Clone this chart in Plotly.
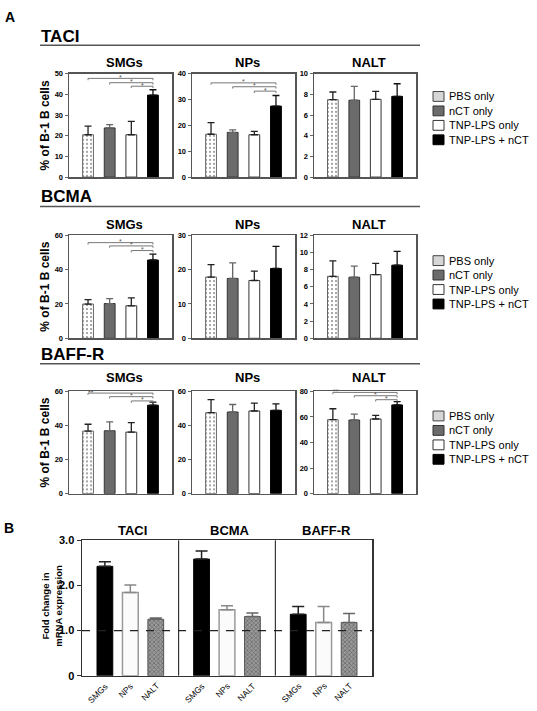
import plotly.graph_objects as go

W, H = 537, 711
FONT = "Liberation Sans, Arial, Helvetica, sans-serif"

# ---------------- data: panel A ----------------
series = ["PBS only", "nCT only", "TNP-LPS only", "TNP-LPS + nCT"]
receptors = ["TACI", "BCMA", "BAFF-R"]
tissues = ["SMGs", "NPs", "NALT"]

taci_smgs_mean = [20.5, 23.8, 20.5, 39.7]
taci_smgs_err = [4.2, 1.6, 6.5, 2.6]
taci_nps_mean = [16.6, 17.3, 16.4, 27.5]
taci_nps_err = [4.5, 1.0, 1.3, 4.1]
taci_nalt_mean = [7.5, 7.44, 7.53, 7.82]
taci_nalt_err = [0.74, 1.34, 0.77, 1.22]

bcma_smgs_mean = [19.9, 20.2, 18.9, 45.5]
bcma_smgs_err = [2.6, 2.9, 4.6, 3.4]
bcma_nps_mean = [17.8, 17.4, 16.8, 20.3]
bcma_nps_err = [3.6, 4.5, 2.7, 6.4]
bcma_nalt_mean = [7.2, 7.1, 7.4, 8.5]
bcma_nalt_err = [1.8, 1.3, 1.3, 1.6]

baffr_smgs_mean = [36.7, 36.9, 36.1, 51.9]
baffr_smgs_err = [4.0, 5.2, 5.6, 1.8]
baffr_nps_mean = [47.5, 47.9, 48.5, 48.9]
baffr_nps_err = [7.7, 4.4, 4.6, 3.8]
baffr_nalt_mean = [57.9, 57.6, 58.4, 69.4]
baffr_nalt_err = [8.5, 4.6, 2.8, 2.6]

# axis maxima and tick steps per receptor row (SMGs, NPs, NALT)
taci_ymax = [50, 40, 10]
taci_step = [10, 10, 2]
bcma_ymax = [60, 30, 12]
bcma_step = [20, 10, 2]
baffr_ymax = [60, 60, 80]
baffr_step = [20, 20, 20]

# significance brackets: (from group index, to group index, level, label, label at start?)
taci_smgs_sig = [(0, 3, 47.8, "*", False), (1, 3, 45.7, "*", False), (2, 3, 44.0, "*", False)]
taci_nps_sig = [(0, 3, 36.5, "*", False), (1, 3, 35.0, "*", False), (2, 3, 33.3, "*", False)]
bcma_smgs_sig = [(0, 3, 55.6, "*", False), (1, 3, 53.7, "*", False), (2, 3, 51.0, "*", False)]
baffr_smgs_sig = [(0, 3, 59.0, "**", True), (1, 3, 56.9, "*", False), (2, 3, 54.4, "*", False)]
baffr_nalt_sig = [(0, 3, 79.2, "**", True), (1, 3, 76.6, "*", False), (2, 3, 73.5, "*", False)]

# ---------------- data: panel B ----------------
b_tissues = ["SMGs", "NPs", "NALT"]
b_taci_mean = [2.42, 1.84, 1.25]
b_taci_err = [0.10, 0.17, 0.03]
b_bcma_mean = [2.58, 1.46, 1.31]
b_bcma_err = [0.18, 0.09, 0.08]
b_baffr_mean = [1.36, 1.18, 1.18]
b_baffr_err = [0.17, 0.35, 0.20]
b_ticks = [0, 1, 2, 3]
b_ticktext = ["0", "1.0", "2.0", "3.0"]


def px(x):
    return x / W


def py(y):
    return 1 - y / H


fig = go.Figure()
layout = {}
shapes = []
annotations = []

a_means = [
    [taci_smgs_mean, taci_nps_mean, taci_nalt_mean],
    [bcma_smgs_mean, bcma_nps_mean, bcma_nalt_mean],
    [baffr_smgs_mean, baffr_nps_mean, baffr_nalt_mean],
]
a_errs = [
    [taci_smgs_err, taci_nps_err, taci_nalt_err],
    [bcma_smgs_err, bcma_nps_err, bcma_nalt_err],
    [baffr_smgs_err, baffr_nps_err, baffr_nalt_err],
]
a_ymax = [taci_ymax, bcma_ymax, baffr_ymax]
a_step = [taci_step, bcma_step, baffr_step]
a_sig = [
    [taci_smgs_sig, taci_nps_sig, []],
    [bcma_smgs_sig, [], []],
    [baffr_smgs_sig, [], baffr_nalt_sig],
]

col_x = [(69, 172), (192, 295), (314, 416)]
row_y = [(69, 174), (233, 338), (392, 496)]
header_y = [31, 194, 354]
rule_y = [40, 204, 364]
coltitle_y = [57, 222, 378]
legend_y0 = [92, 259, 417]

bar_styles = [
    dict(color="white", line="#666",
         pattern=dict(shape=".", fgcolor="#222", bgcolor="white", size=4, solidity=0.22)),
    dict(color="#6b6b6b", line="#333", pattern=None),
    dict(color="white", line="#333", pattern=None),
    dict(color="black", line="black", pattern=None),
]
err_colors = ["#222", "#666", "#222", "#111"]

n = 0
for r in range(3):
    for c in range(3):
        n += 1
        sx = "" if n == 1 else str(n)
        xa, ya = "x" + sx, "y" + sx
        means = a_means[r][c]
        errs = a_errs[r][c]
        for i, name in enumerate(series):
            st = bar_styles[i]
            marker = dict(color=st["color"], line=dict(color=st["line"], width=1))
            if st["pattern"]:
                marker["pattern"] = st["pattern"]
            fig.add_trace(go.Bar(
                x=[i], y=[means[i]], width=0.5, name=name, showlegend=False,
                marker=marker,
                error_y=dict(type="data", symmetric=False, array=[errs[i]], arrayminus=[0],
                             color=err_colors[i], thickness=1.3, width=3.5),
                xaxis=xa, yaxis=ya, hoverinfo="skip"))
        x0, x1 = col_x[c]
        y0, y1 = row_y[r]
        ymax = a_ymax[r][c]
        step = a_step[r][c]
        layout["xaxis" + sx] = dict(
            domain=[px(x0), px(x1)], range=[-0.88, 3.88], showticklabels=False, ticks="",
            showline=True, mirror=True, linecolor="#555", linewidth=1.5,
            showgrid=False, zeroline=False, anchor=ya, fixedrange=True)
        layout["yaxis" + sx] = dict(
            domain=[py(y1), py(y0)], range=[0, ymax], tickvals=list(range(0, ymax + 1, step)),
            ticks="outside", ticklen=3, tickcolor="#666", tickwidth=1,
            tickfont=dict(size=7.5, family=FONT, color="#000000", weight="bold"),
            showline=True, mirror=True, linecolor="#555", linewidth=1.5,
            showgrid=False, zeroline=False, anchor=xa, fixedrange=True)
        # significance brackets
        d = ymax * 0.018
        for (g0, g1, lvl, lab, at_start) in a_sig[r][c]:
            shapes.append(dict(type="path", xref=xa, yref=ya,
                               path=f"M {g0},{lvl - d} L {g0},{lvl} L {g1},{lvl} L {g1},{lvl - d}",
                               line=dict(color="#777", width=1)))
            annotations.append(dict(xref=xa, yref=ya, x=(g0 + 0.15) if at_start else (g0 + g1) / 2,
                                    y=lvl, text=lab, showarrow=False, yanchor="middle", yshift=1,
                                    font=dict(size=7, family=FONT, color="#555")))
        # column title
        annotations.append(dict(xref="paper", yref="paper", x=px((x0 + x1) / 2 + 4), y=py(coltitle_y[r]),
                                text=f"<b>{tissues[c]}</b>", showarrow=False,
                                xanchor="center", yanchor="middle",
                                font=dict(size=13, family=FONT, color="black")))
    # y axis title for the row
    y0, y1 = row_y[r]
    annotations.append(dict(xref="paper", yref="paper", x=px(45), y=py((y0 + y1) / 2),
                            text="<b>% of B-1 B cells</b>", textangle=-90, showarrow=False,
                            xanchor="center", yanchor="middle",
                            font=dict(size=12, family=FONT, color="black")))
    # section header and rule
    annotations.append(dict(xref="paper", yref="paper", x=px(39), y=py(header_y[r]),
                            text=f"<b>{receptors[r]}</b>", showarrow=False,
                            xanchor="left", yanchor="middle",
                            font=dict(size=17, family=FONT, color="black")))
    shapes.append(dict(type="line", xref="paper", yref="paper",
                       x0=px(40), x1=px(420), y0=py(rule_y[r]), y1=py(rule_y[r]),
                       line=dict(color="#555", width=1.5)))
    # custom legend
    legend_fill = ["#d6d6d6", "#6b6b6b", "white", "black"]
    legend_line = ["#444", "#333", "#333", "black"]
    for i, name in enumerate(series):
        cy = legend_y0[r] + i * 14.7
        shapes.append(dict(type="rect", xref="paper", yref="paper",
                           x0=px(433), x1=px(444), y0=py(cy + 5), y1=py(cy - 5),
                           fillcolor=legend_fill[i], line=dict(color=legend_line[i], width=1)))
        annotations.append(dict(xref="paper", yref="paper", x=px(447), y=py(cy),
                                text=name, showarrow=False, xanchor="left", yanchor="middle",
                                font=dict(size=11, family=FONT, color="black")))

# panel letters
annotations.append(dict(xref="paper", yref="paper", x=px(3), y=py(11), text="<b>A</b>",
                        showarrow=False, xanchor="left", yanchor="middle",
                        font=dict(size=14, family=FONT, color="black")))
annotations.append(dict(xref="paper", yref="paper", x=px(2), y=py(531), text="<b>B</b>",
                        showarrow=False, xanchor="left", yanchor="middle",
                        font=dict(size=14, family=FONT, color="black")))

# ---------------- panel B ----------------
n += 1
sx = str(n)
xa, ya = "x" + sx, "y" + sx
SEC = 3.8
b_means = [b_taci_mean, b_bcma_mean, b_baffr_mean]
b_errs = [b_taci_err, b_bcma_err, b_baffr_err]
b_styles = [
    dict(color="black", line="black", lw=1, pattern=None, err="#222"),
    dict(color="#fbfbfb", line="#999", lw=1.5, pattern=None, err="#888"),
    dict(color="#8a8a8a", line="#555", lw=1,
         pattern=dict(shape="x", fgcolor="#3a3a3a", bgcolor="#9a9a9a", size=3, solidity=0.45),
         err="#666"),
]
for j, t in enumerate(b_tissues):
    xs = [s * SEC + j for s in range(3)]
    ys = [b_means[s][j] for s in range(3)]
    es = [b_errs[s][j] for s in range(3)]
    st = b_styles[j]
    marker = dict(color=st["color"], line=dict(color=st["line"], width=st["lw"]))
    if st["pattern"]:
        marker["pattern"] = st["pattern"]
    fig.add_trace(go.Bar(x=xs, y=ys, width=0.62, name=t, showlegend=False, marker=marker,
                         error_y=dict(type="data", symmetric=False, array=es, arrayminus=[0, 0, 0],
                                      color=st["err"], thickness=1.5, width=6),
                         xaxis=xa, yaxis=ya, hoverinfo="skip"))
    # rotated category labels under each bar
    for s in range(3):
        annotations.append(dict(xref=xa, yref="paper", x=s * SEC + j + 0.32, y=py(684),
                                text=t, textangle=-45, showarrow=False,
                                xanchor="right", yanchor="top",
                                font=dict(size=8.5, family=FONT, color="black")))

layout["xaxis" + sx] = dict(
    domain=[px(82), px(372)], range=[-0.9, 3 * SEC - 0.9], showticklabels=False, ticks="",
    showline=True, mirror=True, linecolor="#333", linewidth=1.5,
    showgrid=False, zeroline=False, anchor=ya, fixedrange=True)
layout["yaxis" + sx] = dict(
    domain=[py(681.3), py(543.3)], range=[0, 3], tickvals=b_ticks, ticktext=b_ticktext,
    ticks="outside", ticklen=4, tickcolor="#333",
    tickfont=dict(size=11, family=FONT, color="#000000", weight="bold"),
    showline=True, mirror=True, linecolor="#333", linewidth=1.5,
    showgrid=False, zeroline=False, anchor=xa, fixedrange=True)

for s in range(1, 3):
    xd = s * SEC - 0.9
    shapes.append(dict(type="line", xref=xa, yref=ya, x0=xd, x1=xd, y0=0, y1=3,
                       line=dict(color="#111", width=1)))
shapes.append(dict(type="line", xref=xa + " domain", yref=ya, x0=0, x1=1, y0=1, y1=1,
                   line=dict(color="#222", width=1.2, dash="8px,8px"), layer="above"))

for s, rec in enumerate(receptors):
    annotations.append(dict(xref=xa, yref="paper", x=s * SEC + 1 + 0.1, y=py(534),
                            text=f"<b>{rec}</b>", showarrow=False, xanchor="center", yanchor="middle",
                            font=dict(size=13, family=FONT, color="black")))
annotations.append(dict(xref="paper", yref="paper", x=px(52), y=py(610),
                        text="<b>Fold change in<br>mRNA expression</b>", textangle=-90,
                        showarrow=False, xanchor="center", yanchor="middle",
                        font=dict(size=9.5, family=FONT, color="black")))

fig.update_layout(
    width=W, height=H, margin=dict(l=0, r=0, t=0, b=0),
    paper_bgcolor="white", plot_bgcolor="white",
    showlegend=False, barmode="overlay",
    font=dict(family=FONT, color="black"),
    shapes=shapes, annotations=annotations,
    **layout,
)

fig.write_html(
    "out.html",
    config={"displayModeBar": False, "staticPlot": True},
    post_script="document.body.style.margin='0';document.body.style.overflow='hidden';",
)
